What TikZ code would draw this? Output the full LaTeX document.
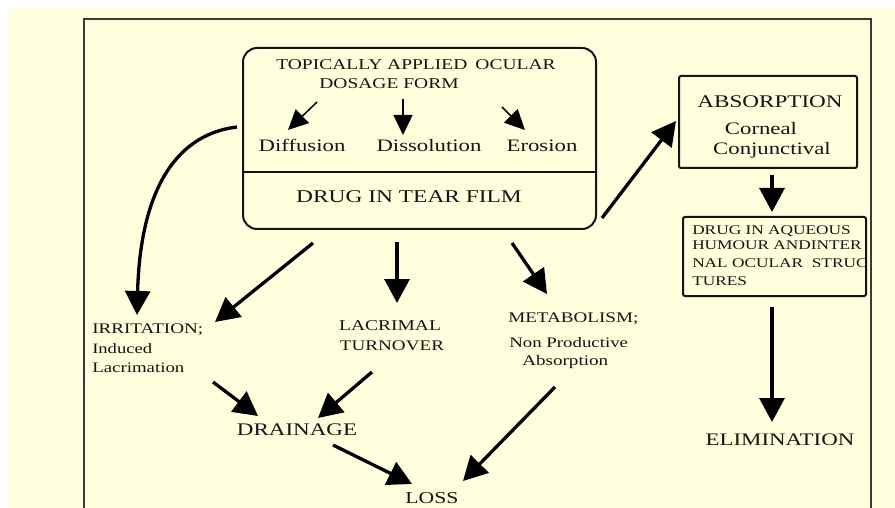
\documentclass[tikz,border=0pt]{standalone}
\usepackage{fontspec}
\setmainfont{Liberation Serif}
\usetikzlibrary{arrows.meta}
\definecolor{bgyellow}{HTML}{FFFFDD}
\definecolor{ink}{HTML}{141414}
\definecolor{framegray}{HTML}{3A3A3A}
\newcommand{\fsz}[1]{\fontsize{#1}{#1}\selectfont}
\begin{document}
\begin{tikzpicture}[x=1pt,y=-1pt,
  txt/.style={inner sep=0pt, xscale=1.3, text=ink},
  boxst/.style={draw=ink, line width=2pt, inner sep=0pt},
  bigarrow/.style={draw=black, line width=3.3pt, -{Triangle[length=24pt,width=25pt]}},
  smallarrow/.style={draw=black, line width=1.5pt, -{Triangle[length=20pt,width=19pt]}}]
\useasboundingbox (0,0) rectangle (895,508);
\fill[white] (0,0) rectangle (895,508);
\fill[bgyellow] (8,9) rectangle (895,508);
% frame
\draw[framegray, line width=2pt] (84,508) -- (84,19) -- (871,19) -- (871,508);

% main box
\node[boxst, rounded corners=14pt, minimum width=353pt, minimum height=181pt] (main) at (419.5,138.5) {};
\coordinate (divy) at (0,172);
\draw[ink, line width=1.5pt] (main.west |- divy) -- (main.east |- divy);
\node[txt, font=\fsz{15}, anchor=base] (top1) at (416,70) {TOPICALLY APPLIED\, OCULAR};
\node[txt, font=\fsz{15}, anchor=base] (top2) at (389,89) {DOSAGE FORM};
\node[txt, font=\fsz{17.5}, anchor=base] (diff) at (302,152) {Diffusion};
\node[txt, font=\fsz{17.5}, anchor=base] (diss) at (429,152) {Dissolution};
\node[txt, font=\fsz{17.5}, anchor=base] (eros) at (542,152) {Erosion};
\node[txt, font=\fsz{18}, anchor=base] (tear) at (409,203) {DRUG IN TEAR FILM};

% absorption box
\node[boxst, rounded corners=2pt, minimum width=178pt, minimum height=92pt] (absbox) at (768,122) {};
\node[txt, font=\fsz{17.8}, anchor=base] (absT) at (770,108) {ABSORPTION};
\node[txt, font=\fsz{17.5}, anchor=base] (corn) at (761,135) {Corneal};
\node[txt, font=\fsz{17.5}, anchor=base] (conj) at (772,155) {Conjunctival};

% aqueous box
\begin{scope}
\clip (684,218) rectangle (865,295);
\node[txt, font=\fsz{13.3}, anchor=base west] (aq1) at (692,235) {DRUG IN AQUEOUS};
\node[txt, font=\fsz{13.3}, anchor=base west] (aq2) at (692,250) {HUMOUR ANDINTER};
\node[txt, font=\fsz{13.3}, anchor=base west] (aq3) at (692,267) {NAL OCULAR\ \ STRUC};
\node[txt, font=\fsz{13.3}, anchor=base west] (aq4) at (692,285) {TURES};
\end{scope}
\node[boxst, rounded corners=2pt, minimum width=183pt, minimum height=79pt] (aqbox) at (774.5,256.5) {};

\node[txt, font=\fsz{17.6}, anchor=base] (elim) at (780,445) {ELIMINATION};

% lower texts
\node[txt, font=\fsz{14.7}, anchor=base west] (irr1) at (92,333) {IRRITATION;};
\node[txt, font=\fsz{14.3}, anchor=base west] (irr2) at (92,353) {Induced};
\node[txt, font=\fsz{14.5}, anchor=base west] (irr3) at (92,372) {Lacrimation};
\node[txt, font=\fsz{15}, anchor=base] (lac1) at (390,330) {LACRIMAL};
\node[txt, font=\fsz{14.7}, anchor=base] (lac2) at (392,350) {TURNOVER};
\node[txt, font=\fsz{14.7}, anchor=base west] (met1) at (508,322) {METABOLISM;};
\node[txt, font=\fsz{14.5}, anchor=base west] (met2) at (509,347) {Non Productive};
\node[txt, font=\fsz{14.7}, anchor=base west] (met3) at (522,365) {Absorption};
\node[txt, font=\fsz{17.7}, anchor=base] (drain) at (297,435) {DRAINAGE};
\node[txt, font=\fsz{16.7}, anchor=base] (loss) at (432,503) {LOSS};

% arrow end points
\coordinate (s1a) at (317,102); \coordinate (s1b) at (288,130);
\coordinate (s2a) at (403,99);  \coordinate (s2b) at (403,135);
\coordinate (s3a) at (502,107); \coordinate (s3b) at (525,130);
\coordinate (irrS) at (237,127); \coordinate (irrE) at (137,315);
\coordinate (m2i) at (313,243); \coordinate (irrE2) at (215,322);
\coordinate (m2l) at (397,242); \coordinate (lacE) at (397,303);
\coordinate (m2m) at (512,243); \coordinate (metE) at (547,294);
\coordinate (i2d) at (213,382); \coordinate (drE1) at (258,416);
\coordinate (l2d) at (372,372); \coordinate (drE2) at (318,418);
\coordinate (d2l) at (333,445); \coordinate (lossE1) at (412,484);
\coordinate (m2lo) at (555,387); \coordinate (lossE2) at (463,481);
\coordinate (m2a) at (602,218); \coordinate (absE) at (676,121);
\coordinate (a2q) at (772,175); \coordinate (aqE) at (772,212);
\coordinate (q2e) at (772,307); \coordinate (elimE) at (772,422);

\draw[smallarrow] (s1a) -- (s1b);
\draw[smallarrow] (s2a) -- (s2b);
\draw[smallarrow] (s3a) -- (s3b);
\draw[bigarrow] (irrS) .. controls (170,135) and (140,200) .. (irrE);
\draw[bigarrow] (m2i) -- (irrE2);
\draw[bigarrow] (m2l) -- (lacE);
\draw[bigarrow] (m2m) -- (metE);
\draw[bigarrow] (i2d) -- (drE1);
\draw[bigarrow] (l2d) -- (drE2);
\draw[bigarrow] (d2l) -- (lossE1);
\draw[bigarrow] (m2lo) -- (lossE2);
\draw[bigarrow] (m2a) -- (absE);
\draw[bigarrow] (a2q) -- (aqE);
\draw[bigarrow] (q2e) -- (elimE);
\end{tikzpicture}
\end{document}
